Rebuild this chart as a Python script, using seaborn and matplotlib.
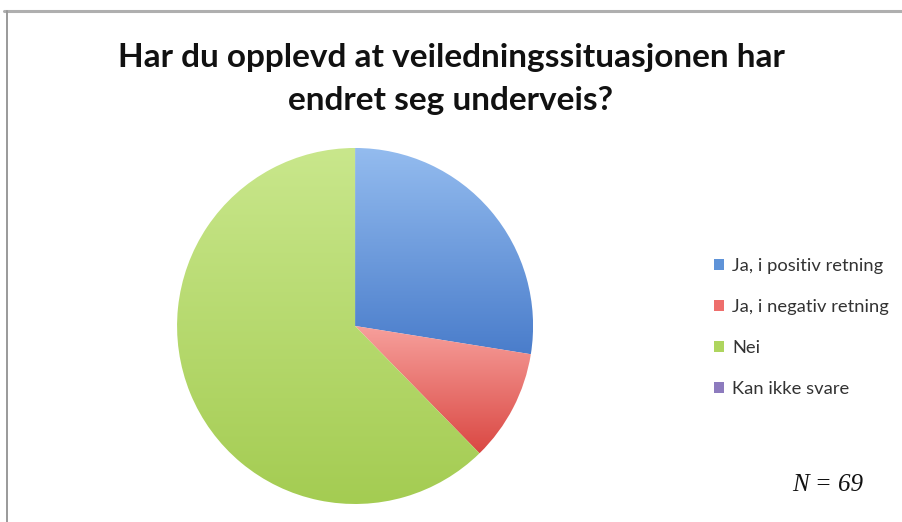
import matplotlib
matplotlib.use("Agg")
import matplotlib.pyplot as plt
from matplotlib.patches import Patch
from matplotlib.lines import Line2D
from matplotlib.colors import LinearSegmentedColormap
import numpy as np
import seaborn as sns

# svar (N = 69)
categories = ['Ja, i positiv retning', 'Ja, i negativ retning', 'Nei', 'Kan ikke svare']
counts = [19, 7, 43, 0]
colors = ['#5F93D8', '#EE6E6C', '#AED55E', '#8D7BBE']
top_colors = ['#94BCEF', '#F7A09C', '#C9E78C', '#A898D0']
bottom_colors = ['#4A7DCB', '#DA4843', '#A4CC52', '#7A66AE']
title = 'Har du opplevd at veiledningssituasjonen har\nendret seg underveis?'
n_label = 'N = 69'

sns.set_theme(style="white")
plt.rcParams['font.family'] = ['Lato', 'DejaVu Sans']

fig = plt.figure(figsize=(9.02, 5.22), dpi=100)

# pie axes: square in pixels, centred around (355, 326)
ax = fig.add_axes([0.1963, 0.0345, 0.3947, 0.682])
wedges, _ = ax.pie(counts, colors=colors, startangle=90, counterclock=False,
                   wedgeprops=dict(linewidth=0))

# vertical shading inside each slice, light at the top
grad = np.linspace(0, 1, 256).reshape(-1, 1)
for w, ct, cb in zip(wedges, top_colors, bottom_colors):
    ext = w.get_path().get_extents()
    if ext.width <= 0 or ext.height <= 0:
        continue
    cmap = LinearSegmentedColormap.from_list('g', [cb, ct])
    im = ax.imshow(grad, cmap=cmap, origin='lower', aspect='auto',
                   extent=[ext.x0, ext.x1, ext.y0, ext.y1], zorder=w.get_zorder())
    im.set_clip_path(w)
    w.set_facecolor('none')

ax.set_xlim(-1, 1)
ax.set_ylim(-1, 1)
ax.axis('off')

fig.text(0.5, 0.848, title, ha='center', va='center', fontsize=24,
         fontweight='bold', color='#111111', linespacing=1.58)

handles = [Patch(facecolor=c, edgecolor='none') for c in colors]
leg = fig.legend(handles, categories, loc='center left',
                 bbox_to_anchor=(0.773, 0.373), frameon=False,
                 fontsize=13.2, handlelength=0.55, handleheight=0.55,
                 handletextpad=0.45, labelspacing=1.36)
for t in leg.get_texts():
    t.set_color('#333333')

fig.text(0.957, 0.071, n_label, ha='right', va='center', fontsize=18,
         style='italic', family='Liberation Serif', color='#111111')

# frame edges at top and left like the screenshot
fig.add_artist(Line2D([0.004, 1.0], [0.979, 0.979], color='#AFAFAF', linewidth=2.2))
fig.add_artist(Line2D([0.0075, 0.0075], [0.0, 0.979], color='#9A9A9A', linewidth=1.4))

fig.savefig('out.png', dpi=100)
